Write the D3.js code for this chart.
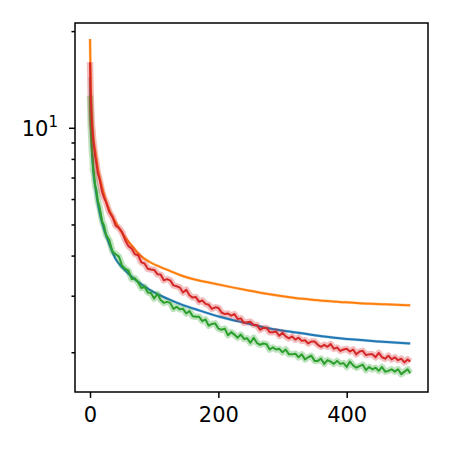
<!DOCTYPE html>
<html>
<head>
<meta charset="utf-8">
<script src="https://d3js.org/d3.v7.min.js"></script>
<style>
  body { margin: 0; background: #fff; }
  svg text { font-family: "DejaVu Sans", sans-serif; fill: #000; }
</style>
</head>
<body>
<div class="chart"></div>
<script>
// values (log y axis)
const blueSteps = [0, 1, 2, 3, 4, 5, 6, 8, 10, 12, 15, 19, 23, 30, 40, 50, 62, 78, 93, 109, 125, 140, 170, 202, 249, 280, 311, 350, 389, 450, 499]
const blueVals = [14.4, 10.8, 9.4, 8.5, 7.9, 7.4, 7.05, 6.6, 6.2, 5.85, 5.45, 5.05, 4.75, 4.35, 3.9, 3.68, 3.48, 3.28, 3.13, 3.01, 2.91, 2.83, 2.70, 2.58, 2.45, 2.37, 2.32, 2.26, 2.21, 2.16, 2.13]

const orangeSteps = [0, 1, 2, 3, 4, 5, 6, 8, 10, 12, 15, 19, 25, 30, 38, 46, 55, 65, 78, 93, 109, 125, 140, 160, 187, 220, 249, 280, 320, 350, 389, 420, 460, 499]
const orangeVals = [18.9, 14.0, 12.0, 10.8, 10.0, 9.4, 9.0, 8.5, 8.0, 7.5, 7.0, 6.5, 5.9, 5.55, 5.15, 4.85, 4.55, 4.3, 4.01, 3.82, 3.69, 3.58, 3.48, 3.38, 3.29, 3.19, 3.11, 3.03, 2.95, 2.91, 2.87, 2.84, 2.82, 2.80]

const noisySteps = [0, 1, 2, 3, 4, 5, 6, 8, 10, 12, 15, 19, 22,
  25, 30, 35, 40, 45, 50, 55, 60, 65, 70, 75, 80, 85, 90, 95, 100,
  105, 110, 115, 120, 125, 130, 135, 140, 145, 150, 155, 160, 165, 170, 175, 180,
  185, 190, 195, 200, 205, 210, 215, 220, 225, 230, 235, 240, 245, 250, 255, 260,
  265, 270, 275, 280, 285, 290, 295, 300, 305, 310, 315, 320, 325, 330, 335, 340,
  345, 350, 355, 360, 365, 370, 375, 380, 385, 390, 395, 400, 405, 410, 415, 420,
  425, 430, 435, 440, 445, 450, 455, 460, 465, 470, 475, 480, 485, 490, 495, 499]

const greenVals = [12.6, 10.2, 9.3, 8.4, 8.05, 7.4, 7.2, 6.6, 6.4, 5.95, 5.65, 5.1, 4.95,
  4.64, 4.47, 4.12, 4.04, 3.97, 3.72, 3.64, 3.59, 3.38, 3.40, 3.30, 3.17, 3.20, 3.07, 3.06, 2.94,
  3.04, 2.91, 2.85, 2.87, 2.85, 2.73, 2.77, 2.72, 2.73, 2.64, 2.69, 2.59, 2.58, 2.58, 2.50, 2.53,
  2.42, 2.45, 2.46, 2.37, 2.35, 2.37, 2.26, 2.31, 2.27, 2.22, 2.27, 2.20, 2.21, 2.14, 2.22, 2.14,
  2.11, 2.13, 2.12, 2.04, 2.07, 2.04, 2.05, 2.00, 2.04, 1.97, 1.97, 1.98, 1.93, 1.97, 1.90, 1.93,
  1.95, 1.88, 1.88, 1.91, 1.84, 1.89, 1.87, 1.84, 1.88, 1.84, 1.85, 1.80, 1.87, 1.82, 1.79, 1.81,
  1.83, 1.76, 1.80, 1.77, 1.79, 1.75, 1.80, 1.74, 1.75, 1.77, 1.74, 1.77, 1.71, 1.74, 1.77, 1.72]

const redVals = [16.0, 12.7, 11.3, 10.2, 9.75, 9.15, 8.85, 8.15, 7.75, 7.25, 6.9, 6.3, 6.05,
  5.87, 5.47, 5.28, 4.96, 4.88, 4.73, 4.46, 4.28, 4.20, 4.04, 4.01, 3.81, 3.78, 3.64, 3.62, 3.61,
  3.50, 3.49, 3.35, 3.38, 3.35, 3.23, 3.21, 3.18, 3.07, 3.13, 3.01, 2.96, 2.97, 2.87, 2.90, 2.83,
  2.81, 2.73, 2.76, 2.75, 2.66, 2.63, 2.64, 2.60, 2.63, 2.54, 2.55, 2.47, 2.48, 2.49, 2.43, 2.43,
  2.35, 2.38, 2.38, 2.31, 2.31, 2.32, 2.25, 2.30, 2.24, 2.21, 2.24, 2.19, 2.22, 2.17, 2.18, 2.13,
  2.16, 2.16, 2.11, 2.08, 2.11, 2.08, 2.12, 2.05, 2.07, 2.02, 2.04, 2.05, 2.01, 2.04, 1.97, 2.01,
  2.02, 1.96, 1.97, 1.97, 1.93, 1.99, 1.93, 1.91, 1.95, 1.90, 1.93, 1.89, 1.91, 1.86, 1.90, 1.87]

const xTicks = [0, 200, 400]
const yMajor = [10]
const yMinor = [2, 3, 4, 5, 6, 7, 8, 9, 20]

const width = 450, height = 450
const margin = { top: 23, right: 22, bottom: 58, left: 75 }

let svg = d3.select(".chart").append("svg")
  .attr("width", width)
  .attr("height", height)

let x = d3.scaleLinear()
  .domain([-23.4, 526.7])
  .range([margin.left, width - margin.right])

let y = d3.scaleLog()
  .domain([1.504, 21.2])
  .range([height - margin.bottom, margin.top])

let series = [
  { steps: blueSteps, vals: blueVals, color: "#1f77b4", curve: d3.curveMonotoneX, band: 3, op: 0.3 },
  { steps: orangeSteps, vals: orangeVals, color: "#ff7f0e", curve: d3.curveMonotoneX, band: 3, op: 0.3 },
  { steps: noisySteps, vals: greenVals, color: "#2ca02c", curve: d3.curveLinear, band: 6.5, op: 0.3 },
  { steps: noisySteps, vals: redVals, color: "#d62728", curve: d3.curveLinear, band: 6.5, op: 0.3 }
]

series.forEach(s => {
  let pts = s.steps.map((st, i) => [st, s.vals[i]])
  let line = d3.line()
    .x(d => x(d[0]))
    .y(d => y(d[1]))
    .curve(s.curve)

  // faint band under each line
  svg.append("path")
    .datum(pts)
    .attr("d", line)
    .attr("fill", "none")
    .attr("stroke", s.color)
    .attr("stroke-opacity", s.op)
    .attr("stroke-width", s.band)
    .attr("stroke-linejoin", "round")

  svg.append("path")
    .datum(pts)
    .attr("d", line)
    .attr("fill", "none")
    .attr("stroke", s.color)
    .attr("stroke-width", 2)
    .attr("stroke-linejoin", "round")
})

// axes
let xAxis = svg.append("g")
  .attr("transform", `translate(0,${height - margin.bottom})`)
  .call(d3.axisBottom(x).tickValues(xTicks).tickSize(6).tickPadding(9.5).tickFormat(d3.format("d")))
xAxis.select(".domain").remove()

let yMinorAxis = svg.append("g")
  .attr("transform", `translate(${margin.left},0)`)
  .call(d3.axisLeft(y).tickValues(yMinor).tickSize(3.5).tickFormat(""))
yMinorAxis.select(".domain").remove()

let yAxis = svg.append("g")
  .attr("transform", `translate(${margin.left},0)`)
  .call(d3.axisLeft(y).tickValues(yMajor).tickSize(6).tickFormat(""))
yAxis.select(".domain").remove()

svg.selectAll(".tick line").attr("stroke", "#000").attr("stroke-width", 1.5)
xAxis.selectAll("text").attr("font-size", 21).attr("font-family", "DejaVu Sans")

// 10^1 label
yMajor.forEach(v => {
  let t = svg.append("text")
    .attr("x", 58)
    .attr("y", y(v) + 8)
    .attr("text-anchor", "end")
    .attr("font-size", 21)
  t.append("tspan").text("10")
  t.append("tspan").attr("dy", -9).attr("font-size", 15).text("1")
})

// frame
svg.append("rect")
  .attr("x", margin.left)
  .attr("y", margin.top)
  .attr("width", width - margin.left - margin.right)
  .attr("height", height - margin.top - margin.bottom)
  .attr("fill", "none")
  .attr("stroke", "#000")
  .attr("stroke-width", 1.5)
</script>
</body>
</html>
